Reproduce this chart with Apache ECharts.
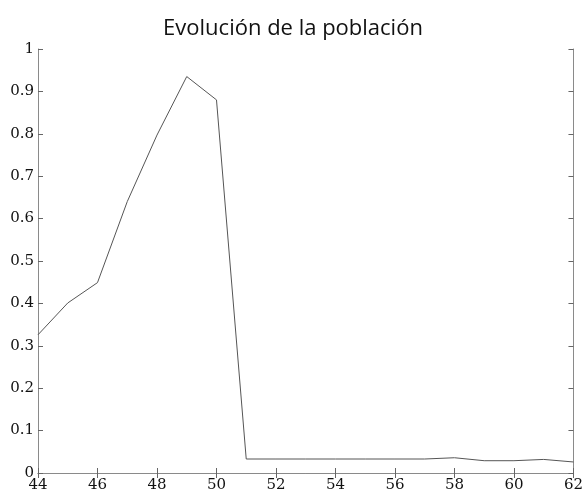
<!DOCTYPE html>
<html><head><meta charset="utf-8">
<script src="https://cdn.jsdelivr.net/npm/echarts@6/dist/echarts.min.js"></script>
<style>html,body{margin:0;padding:0;background:#fff}#c{width:586px;height:493px}</style>
</head><body><div id="c"></div>
<script>
var title = 'Evolución de la población';
var xs = [44,45,46,47,48,49,50,51,52,53,54,55,56,57,58,59,60,61,62];
var ys = [0.326,0.401,0.449,0.640,0.797,0.935,0.880,0.033,0.033,0.033,0.033,0.033,0.033,0.033,0.036,0.029,0.029,0.032,0.026];
var xMin = 44, xMax = 62, xStep = 2;
var yMin = 0, yMax = 1, yStep = 0.1;

var chart = echarts.init(document.getElementById('c'), null, {renderer:'canvas'});
var axisLine = {show:true, lineStyle:{color:'#8a8a8a', width:1}};
var tick = {show:true, inside:true, length:5, lineStyle:{color:'#666', width:1}};
var serif = '"DejaVu Serif", serif';
chart.setOption({
  animation:false,
  title:{text:title, left:'center', top:13, textStyle:{fontFamily:'"Open Sans", sans-serif', fontWeight:'normal', fontSize:22, color:'#111'}},
  grid:{left:38, right:9, top:49, bottom:20, containLabel:false},
  xAxis:[
    {type:'value', min:xMin, max:xMax, interval:xStep, position:'bottom', axisLine:axisLine, axisTick:tick, splitLine:{show:false},
     axisLabel:{fontFamily:serif, fontSize:15, color:'#111', margin:5}},
    {type:'value', min:xMin, max:xMax, interval:xStep, position:'top', axisLine:axisLine, axisTick:tick, splitLine:{show:false}, axisLabel:{show:false}}
  ],
  yAxis:[
    {type:'value', min:yMin, max:yMax, interval:yStep, position:'left', axisLine:axisLine, axisTick:tick, splitLine:{show:false},
     axisLabel:{fontFamily:serif, fontSize:15, color:'#111', margin:4, formatter:function(v){return String(+v.toFixed(1));}}},
    {type:'value', min:yMin, max:yMax, interval:yStep, position:'right', axisLine:axisLine, axisTick:tick, splitLine:{show:false}, axisLabel:{show:false}}
  ],
  series:[{type:'line', data:xs.map(function(x,i){return [x, ys[i]];}), symbol:'none', lineStyle:{color:'#555', width:1}}]
});
</script></body></html>
